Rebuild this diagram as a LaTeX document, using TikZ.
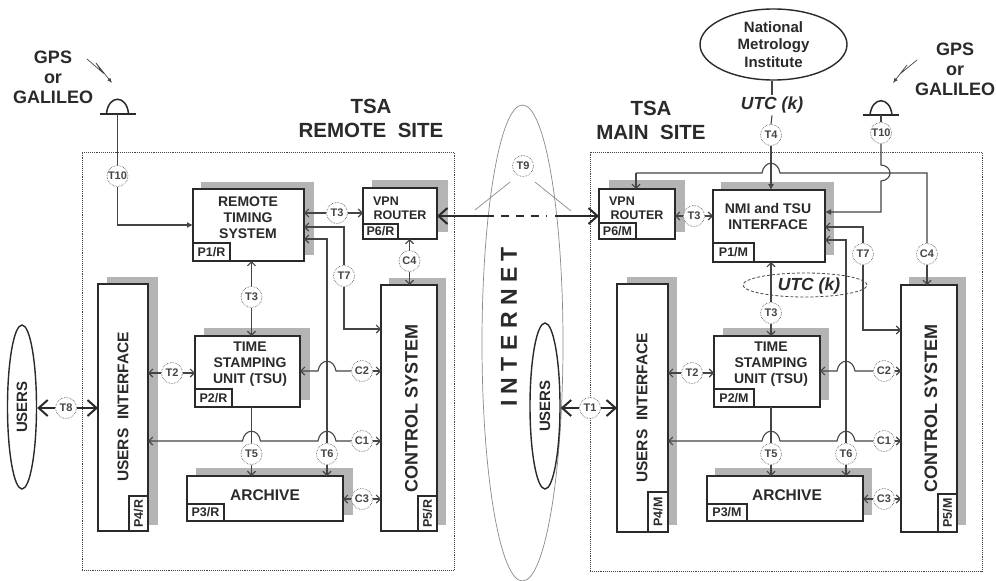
\documentclass[tikz,border=0pt]{standalone}
\usepackage{fontspec}
\usepackage{graphicx}
\setmainfont{Liberation Sans}
\usetikzlibrary{arrows.meta,calc,shapes.geometric}
\definecolor{ink}{HTML}{2A2A2A}
\definecolor{lc}{HTML}{454545}
\definecolor{sh}{HTML}{B4B4B4}
\definecolor{thin}{HTML}{8A8A8A}
\newcommand\fs[2]{\fontsize{#1}{#2}\selectfont\bfseries}
\tikzset{
  >={Straight Barb[length=4pt,width=8pt]},
  fillt/.tip={Latex[length=6pt,width=6pt]},
  big/.tip={Straight Barb[length=9pt,width=16pt,line width=2pt]},
  ln/.style={draw=lc,line width=1.1pt},
  hv/.style={draw=ink,line width=2pt},
  tn/.style={draw=thin,line width=0.7pt},
  bolt/.style={draw=lc,line width=0.7pt},
  blkst/.style={draw=ink,fill=white,line width=1.5pt,inner sep=0pt,outer sep=0pt,text=ink},
  site/.style={draw=lc,line width=0.9pt,densely dotted,inner sep=0pt,outer sep=0pt},
  lab/.style={circle,draw=lc,fill=white,densely dotted,line width=0.6pt,inner sep=0pt,minimum size=21pt,text=lc,font=\fs{11}{12}},
  txt/.style={align=center,inner sep=0pt,text=ink},
  t14/.style={txt,font=\fs{14}{16}},
  t20/.style={txt,font=\fs{20.5}{24}},
  t18/.style={txt,font=\fs{18}{20}},
  ring/.style={ellipse,draw=ink,line width=1.4pt,inner sep=0pt},
}
\newcommand\shad[4]{\fill[sh] (#1,#2) rectangle (#3,#4);}
\newcommand\blk[6]{%
  \pgfmathsetmacro\bw{#4-#2}\pgfmathsetmacro\bh{#5-#3}%
  \pgfmathsetmacro\cx{(#4+#2)/2}\pgfmathsetmacro\cy{(#5+#3)/2}%
  \node[blkst,minimum width=\bw pt,minimum height=\bh pt,font=\fs{12.5}{14}] (#1) at (\cx,\cy) {#6};}
\newcommand\sitebox[5]{%
  \pgfmathsetmacro\bw{#4-#2}\pgfmathsetmacro\bh{#5-#3}%
  \pgfmathsetmacro\cx{(#4+#2)/2}\pgfmathsetmacro\cy{(#5+#3)/2}%
  \node[site,minimum width=\bw pt,minimum height=\bh pt] (#1) at (\cx,\cy) {};}
% hump of a horizontal line (going left to right) over the vertical through node #1, at the height of node #2
\newcommand\hump[2]{-- ($(#1 |- #2)+(-9,0)$) .. controls ($(#1 |- #2)+(-7,-13)$) and ($(#1 |- #2)+(7,-13)$) .. ($(#1 |- #2)+(9,0)$)}
\begin{document}
\begin{tikzpicture}[x=1pt,y=-1pt]
\useasboundingbox (0,0) rectangle (996,581);
\fill[white] (0,0) rectangle (996,581);

% sites
\sitebox{siter}{82}{152}{454}{570}
\sitebox{sitem}{590}{152}{982}{571}

% internet cloud
\node[ellipse,draw=thin,line width=0.7pt,minimum width=81pt,minimum height=476pt,inner sep=0pt] (inet) at (522.5,343) {};
\node[txt,rotate=90,font=\fs{23}{26}] (inettxt) at (509,327) {I N T E R N E T};

% shadows
\shad{201}{182}{314}{255}
\shad{372}{180}{448}{232}
\shad{107}{277}{158}{525}
\shad{389}{278}{446}{525}
\shad{204}{328}{310}{400}
\shad{196}{468}{353}{515}
\shad{609}{180}{685}{232}
\shad{721}{182}{834}{255}
\shad{627}{277}{677}{525}
\shad{909}{277}{966}{525}
\shad{723}{328}{829}{400}
\shad{715}{468}{872}{515}

% remote site blocks
\blk{rts}{193}{189}{304}{261}{}
\blk{vpnr}{363}{188}{437}{239}{}
\blk{uir}{98}{284}{148}{531}{}
\blk{csr}{381}{285}{437}{531}{}
\blk{tsur}{195}{336}{300}{407}{}
\blk{arcr}{187}{476}{343}{521}{}
\blk{p1r}{193}{243}{230}{261}{P1/R}
\blk{p6r}{363}{224}{398}{239}{P6/R}
\blk{p2r}{195}{389}{232}{407}{P2/R}
\blk{p3r}{187}{504}{224}{521}{P3/R}
\blk{p4r}{129}{496}{148}{531}{\rotatebox{90}{P4/R}}
\blk{p5r}{418}{496}{437}{531}{\rotatebox{90}{P5/R}}

% main site blocks
\blk{nmi}{713}{190}{825}{262}{}
\blk{vpnm}{599}{189}{675}{239}{}
\blk{uim}{617}{284}{668}{532}{}
\blk{csm}{901}{285}{957}{532}{}
\blk{tsum}{714}{336}{820}{407}{}
\blk{arcm}{707}{476}{863}{521}{}
\blk{p1m}{713}{243}{754}{262}{P1/M}
\blk{p6m}{599}{223}{636}{239}{P6/M}
\blk{p2m}{714}{389}{754}{407}{P2/M}
\blk{p3m}{707}{504}{747}{521}{P3/M}
\blk{p4m}{648}{492}{668}{532}{\rotatebox{90}{P4/M}}
\blk{p5m}{938}{494}{957}{532}{\rotatebox{90}{P5/M}}

% block texts
\node[t14] (rtstxt) at (248,218) {REMOTE\\TIMING\\SYSTEM};
\node[t14] (tsurtxt) at (250,364) {TIME\\STAMPING\\UNIT (TSU)};
\node[t14] (nmitxt) at (768,216) {NMI and TSU\\INTERFACE};
\node[t14] (tsumtxt) at (771,364) {TIME\\STAMPING\\UNIT (TSU)};
\node[txt,font=\fs{12.5}{14}] (vpnrt1) at (386,201) {VPN};
\node[txt,font=\fs{12.5}{14}] (vpnrt2) at (400,215.5) {ROUTER};
\node[txt,font=\fs{12.5}{14}] (vpnmt1) at (622,201) {VPN};
\node[txt,font=\fs{12.5}{14}] (vpnmt2) at (637,215.5) {ROUTER};
\node[txt,font=\fs{15.5}{18}] (arcrt) at (265,495) {ARCHIVE};
\node[txt,font=\fs{15.5}{18}] (arcmt) at (787,495) {ARCHIVE};
\node[txt,rotate=90,font=\fs{15.5}{18}] (uirt) at (123,407) {USERS\ \ INTERFACE};
\node[txt,rotate=90,font=\fs{15.5}{18}] (uimt) at (642,408) {USERS\ \ INTERFACE};
\node[txt,rotate=90,font=\fs{18}{20}] (csrt) at (411.5,408) {CONTROL SYSTEM};
\node[txt,rotate=90,font=\fs{18}{20}] (csmt) at (931,408) {CONTROL SYSTEM};

% headings
\node[t20] (hr) at (371,118.5) {TSA\\REMOTE\ \ SITE};
\node[t20] (hm) at (651,120) {TSA\\MAIN\ \ SITE};
\node[t18] (gpsl) at (53,77) {GPS\\or\\GALILEO};
\node[t18] (gpsr) at (955,69) {GPS\\or\\GALILEO};

% outside ellipses
\node[ring,minimum width=147pt,minimum height=71pt,font=\fs{15}{17.5},align=center,text=ink] (nmiorg) at (773.5,44.5) {National\\Metrology\\Institute};
\node[ring,minimum width=29pt,minimum height=164pt] (usrr) at (22,407) {};
\node[txt,rotate=90,font=\fs{15}{18}] at (usrr) {USERS};
\node[ring,minimum width=30pt,minimum height=166pt] (usrm) at (545,406) {};
\node[txt,rotate=90,font=\fs{15}{18}] at (usrm) {USERS};

% UTC(k)
\node[txt,inner sep=2pt,font=\fs{17.5}{20}\itshape] (utc1) at (772,105) {UTC (k)};
\node[ellipse,draw=lc,densely dashed,line width=0.8pt,minimum width=124pt,minimum height=24pt,inner sep=0pt] (utc2) at (805,285) {};
\node[txt,font=\fs{17.5}{20}\itshape] (utc2t) at (809,286) {UTC (k)};

% labels
\node[lab] (t10r) at (117.5,176) {T10};
\node[lab] (t3ra) at (337,213) {T3};
\node[lab] (t7r) at (344,276) {T7};
\node[lab] (c4r) at (409.5,261) {C4};
\node[lab] (t3rb) at (251.5,297) {T3};
\node[lab] (t2r) at (172,373) {T2};
\node[lab] (c2r) at (362,371) {C2};
\node[lab] (c1r) at (362,441) {C1};
\node[lab] (t5r) at (251.5,454) {T5};
\node[lab] (t6r) at (327,454) {T6};
\node[lab] (c3r) at (362,499) {C3};
\node[lab] (t8) at (66,408) {T8};
\node[lab] (t9) at (523,166) {T9};
\node[lab] (t1) at (590,408) {T1};
\node[lab] (t3ma) at (694,216) {T3};
\node[lab] (t4) at (771,135) {T4};
\node[lab] (t10m) at (881,133) {T10};
\node[lab] (t7m) at (863,254) {T7};
\node[lab] (c4m) at (927,254) {C4};
\node[lab] (t3mb) at (771,313) {T3};
\node[lab] (t2m) at (692,373) {T2};
\node[lab] (c2m) at (884,371) {C2};
\node[lab] (c1m) at (884,441) {C1};
\node[lab] (t5m) at (771,454) {T5};
\node[lab] (t6m) at (846,454) {T6};
\node[lab] (c3m) at (884,499) {C3};

% named free points
\coordinate (antl) at (117.5,113.5);
\coordinate (antr) at (881,115);
\coordinate (rtsin) at (193,225);
\coordinate (t7ra) at (304,227);
\coordinate (t6ra) at (304,239);
\coordinate (t7rb) at (381,329);
\coordinate (nmiin) at (825,212);
\coordinate (t7ma) at (825,227);
\coordinate (t6ma) at (825,240);
\coordinate (t7mb) at (901,330);
\coordinate (top) at (771,173);
\coordinate (vpnt) at (636,173);
\coordinate (t10h) at (881,173);
\coordinate (c4h) at (927,173);

% antennas
\draw[hv] ($(antl)+(-18,0)$) -- ($(antl)+(18,0)$);
\draw[ink,line width=1.5pt] ($(antl)+(-11,0)$) .. controls ($(antl)+(-9,-19)$) and ($(antl)+(9,-19)$) .. ($(antl)+(11,0)$);
\draw[hv] ($(antr)+(-18,0)$) -- ($(antr)+(18,0)$);
\draw[ink,line width=1.5pt] ($(antr)+(-11,0)$) .. controls ($(antr)+(-9,-19)$) and ($(antr)+(9,-19)$) .. ($(antr)+(11,0)$);

% radio bolts
\coordinate (b1a) at (87,59); \coordinate (b1b) at (102,72); \coordinate (b1c) at (96,63); \coordinate (b1d) at (112,83);
\coordinate (b2a) at (917,60); \coordinate (b2b) at (900,74); \coordinate (b2c) at (907,65); \coordinate (b2d) at (893,83);
\draw[bolt,-{Latex[length=5pt,width=4pt]}] (b1a) -- (b1b) -- (b1c) -- (b1d);
\draw[bolt,-{Latex[length=5pt,width=4pt]}] (b2a) -- (b2b) -- (b2c) -- (b2d);

% remote site connectors
\draw[ln] (antl) -- (t10r.north);
\draw[ln,-fillt] (t10r.south) |- (rtsin);
\draw[ln,->] (t3ra.west) -- (t3ra.west -| rts.east);
\draw[ln,->] (t3ra.east) -- (t3ra.east -| vpnr.west);
\draw[ln,<-] (t7ra) -| (t7r.north);
\draw[ln,->] (t7r.south) |- (t7rb);
\draw[ln,<-] (t6ra) -| (t6r.north);
\draw[ln,->] (t6r.south) -- (t6r.south |- arcr.north);
\draw[ln,->] (c4r.north) -- (vpnr.south -| c4r);
\draw[ln,->] (c4r.south) -- (csr.north -| c4r);
\draw[ln,->] (t3rb.north) -- (rts.south -| t3rb);
\draw[ln,->] (t3rb.south) -- (tsur.north -| t3rb);
\draw[ln,->] (t2r.west) -- (uir.east |- t2r);
\draw[ln,->] (t2r.east) -- (tsur.west |- t2r);
\draw[ln,<-] (tsur.east |- c2r) \hump{t6r}{c2r} -- (c2r.west);
\draw[ln,->] (c2r.east) -- (csr.west |- c2r);
\draw[ln,<-] (uir.east |- c1r) \hump{t5r}{c1r} \hump{t6r}{c1r} -- (c1r.west);
\draw[ln,->] (c1r.east) -- (csr.west |- c1r);
\draw[ln] (tsur.south -| t5r) -- (t5r.north);
\draw[ln,->] (t5r.south) -- (arcr.north -| t5r);
\draw[ln,->] (c3r.west) -- (arcr.east |- c3r);
\draw[ln,->] (c3r.east) -- (csr.west |- c3r);
\draw[hv,{big}-] (usrr.east |- t8) -- (t8.west);
\draw[hv,-{big}] (t8.east) -- (uir.west |- t8);

% link across the internet
\coordinate (da) at (494,216); \coordinate (db) at (501,216); \coordinate (dc) at (547,216); \coordinate (dd) at (555,216);
\draw[hv,{big}-] (vpnr.east |- da) -- (da);
\draw[hv,dash pattern=on 8pt off 7pt] (db) -- (dc);
\draw[hv,-{big}] (dd) -- (vpnm.west |- dd);
\coordinate (t9a) at (510,182); \coordinate (t9b) at (475,210); \coordinate (t9c) at (535,182); \coordinate (t9d) at (571,211);
\draw[tn] (t9a) -- (t9b);
\draw[tn] (t9c) -- (t9d);

% main site connectors
\draw[ln] (nmiorg.south -| utc1) -- (utc1.north);
\draw[ln] (utc1.south) -- (t4.north);
\draw[ln,-fillt] (t4.south) -- (nmi.north -| t4);
\draw[ln,->] (vpnt |- top) -- (vpnt |- vpnm.north);
\draw[ln] (vpnt) \hump{t4}{top} -- (c4h) -- (c4m.north);
\draw[ln,->] (c4m.south) -- (csm.north -| c4m);
\draw[ln] (antr) -- (t10m.north);
\draw[ln,-fillt] (t10m.south) -- ($(t10h)+(0,-8)$) .. controls ($(t10h)+(12,-7)$) and ($(t10h)+(12,7)$) .. ($(t10h)+(0,8)$) |- (nmiin);
\draw[ln,->] (t3ma.west) -- (vpnm.east |- t3ma);
\draw[ln,->] (t3ma.east) -- (nmi.west |- t3ma);
\draw[ln,<-] (t7ma) -| (t7m.north);
\draw[ln,->] (t7m.south) |- (t7mb);
\draw[ln,<-] (t6ma) -| (t6m.north);
\draw[ln,->] (t6m.south) -- (arcm.north -| t6m);
\draw[ln,->] (t3mb.north) -- (nmi.south -| t3mb);
\draw[ln,->] (t3mb.south) -- (tsum.north -| t3mb);
\draw[ln,->] (t2m.west) -- (uim.east |- t2m);
\draw[ln,->] (t2m.east) -- (tsum.west |- t2m);
\draw[ln,<-] (tsum.east |- c2m) \hump{t6m}{c2m} -- (c2m.west);
\draw[ln,->] (c2m.east) -- (csm.west |- c2m);
\draw[ln,<-] (uim.east |- c1m) \hump{t5m}{c1m} \hump{t6m}{c1m} -- (c1m.west);
\draw[ln,->] (c1m.east) -- (csm.west |- c1m);
\draw[ln] (tsum.south -| t5m) -- (t5m.north);
\draw[ln,->] (t5m.south) -- (arcm.north -| t5m);
\draw[ln,->] (c3m.west) -- (arcm.east |- c3m);
\draw[ln,->] (c3m.east) -- (csm.west |- c3m);
\draw[hv,{big}-] (usrm.east |- t1) -- (t1.west);
\draw[hv,-{big}] (t1.east) -- (uim.west |- t1);
\end{tikzpicture}
\end{document}
